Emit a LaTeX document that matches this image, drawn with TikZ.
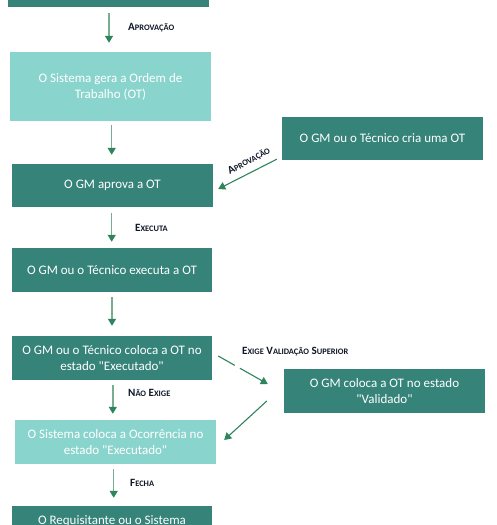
\documentclass[tikz,border=0pt]{standalone}
\usepackage{fontspec}
\setmainfont{Carlito}[Ligatures=TeXOff]
\usetikzlibrary{arrows.meta,calc}
\definecolor{dk}{HTML}{358379}
\definecolor{lt}{HTML}{8AD4CE}
\definecolor{shaft}{HTML}{79AC90}
\definecolor{head}{HTML}{2E855C}
\definecolor{lbc}{HTML}{101828}
\newcommand\lsc[1]{{\fontsize{8.4}{10}\selectfont #1}}
\begin{document}
\begin{tikzpicture}[x=1pt,y=-1pt,
 box/.style={fill=dk, text=white, minimum width=201pt, minimum height=44pt, inner sep=0pt, align=center, font=\fontsize{13}{16}\selectfont},
 lbox/.style={box, fill=lt},
 flow/.style={draw=shaft, line width=1.5pt, -{Triangle[width=8pt,length=7pt,color=head]}},
 diag/.style={draw=head, line width=1.1pt, -{Triangle[width=8pt,length=7pt]}},
 lbl/.style={text=lbc, font=\bfseries\fontsize{11.1}{13}\selectfont, inner sep=0pt, anchor=west},
]
\useasboundingbox (0,0) rectangle (496,525);
\fill[white] (0,0) rectangle (496,525);

\node[box, minimum height=46pt] (top) at (108.5,-16) {};
\node[lbox, minimum height=69pt] (b2) at (110.5,86.5) {O Sistema gera a Ordem de\\Trabalho (OT)};
\node[box, minimum height=43pt] (b3) at (112.5,185.5) {O GM aprova a OT};
\node[box, minimum height=43pt] (r1) at (382.5,138.5) {O GM ou o Técnico cria uma OT};
\node[box, minimum width=200pt] (b4) at (112,270) {O GM ou o Técnico executa a OT};
\node[box, minimum width=200pt] (b5) at (112,358) {O GM ou o Técnico coloca a OT no\\estado "Executado"};
\node[box] (r2) at (384.5,391) {O GM coloca a OT no estado\\"Validado"};
\node[lbox] (b7) at (115.5,442) {O Sistema coloca a Ocorrência no\\estado "Executado"};
\node[box, minimum width=200pt] (b8) at (112,528) {O Requisitante ou o Sistema\\\mbox{}};

% vertical flows
\draw[flow, shorten <=6pt, shorten >=9pt] (top.south) ++(0.5,0) coordinate (t0) (t0) -- (t0 |- b2.north);
\draw[flow, shorten <=4pt, shorten >=9pt] ($(b2.south)+(1.2,0)$) coordinate (t1) (t1) -- (t1 |- b3.north);
\draw[flow, shorten <=6pt, shorten >=6pt] ($(b3.south)+(-0.8,0)$) coordinate (t2) (t2) -- (t2 |- b4.north);
\draw[flow, shorten <=5pt, shorten >=10pt] (b4.south) -- (b4.south |- b5.north);
\draw[flow, shorten <=5pt, shorten >=6pt] ($(b5.south)+(0.8,0)$) coordinate (t3) (t3) -- (t3 |- b7.north);
\draw[flow, shorten <=5pt, shorten >=8pt] ($(b7.south)+(-1.8,0)$) coordinate (t4) (t4) -- (t4 |- b8.north);

% diagonal flows
\coordinate (d1s) at ($(r1.south west)+(-5,-1)$);
\coordinate (d1e) at ($(b3.east)+(5,3.5)$);
\draw[diag] (d1s) -- (d1e);
\coordinate (d2s) at ($(b5.east)+(6,-2)$);
\coordinate (d2e) at ($(r2.west)+(-16,-7)$);
\draw[diag, dash pattern=on 19pt off 6pt on 80pt] (d2s) -- (d2e);
\coordinate (d3s) at ($(r2.west)+(-17,10)$);
\coordinate (d3e) at ($(b7.east)+(8,-2)$);
\draw[diag] (d3s) -- (d3e);

% labels
\node[lbl] (l1) at (128,28) {A\lsc{PROVAÇÃO}};
\node[lbl] (l2) at (135,228) {E\lsc{XECUTA}};
\node[lbl] (l3) at (128,393) {N\lsc{ÃO} E\lsc{XIGE}};
\node[lbl] (l4) at (130,483) {F\lsc{ECHA}};
\node[lbl] (l5) at (242,352) {E\lsc{XIGE} V\lsc{ALIDAÇÃO} S\lsc{UPERIOR}};
\node[lbl, anchor=center, rotate=27.5] (l6) at (249,161) {A\lsc{PROVAÇÃO}};
\end{tikzpicture}
\end{document}
